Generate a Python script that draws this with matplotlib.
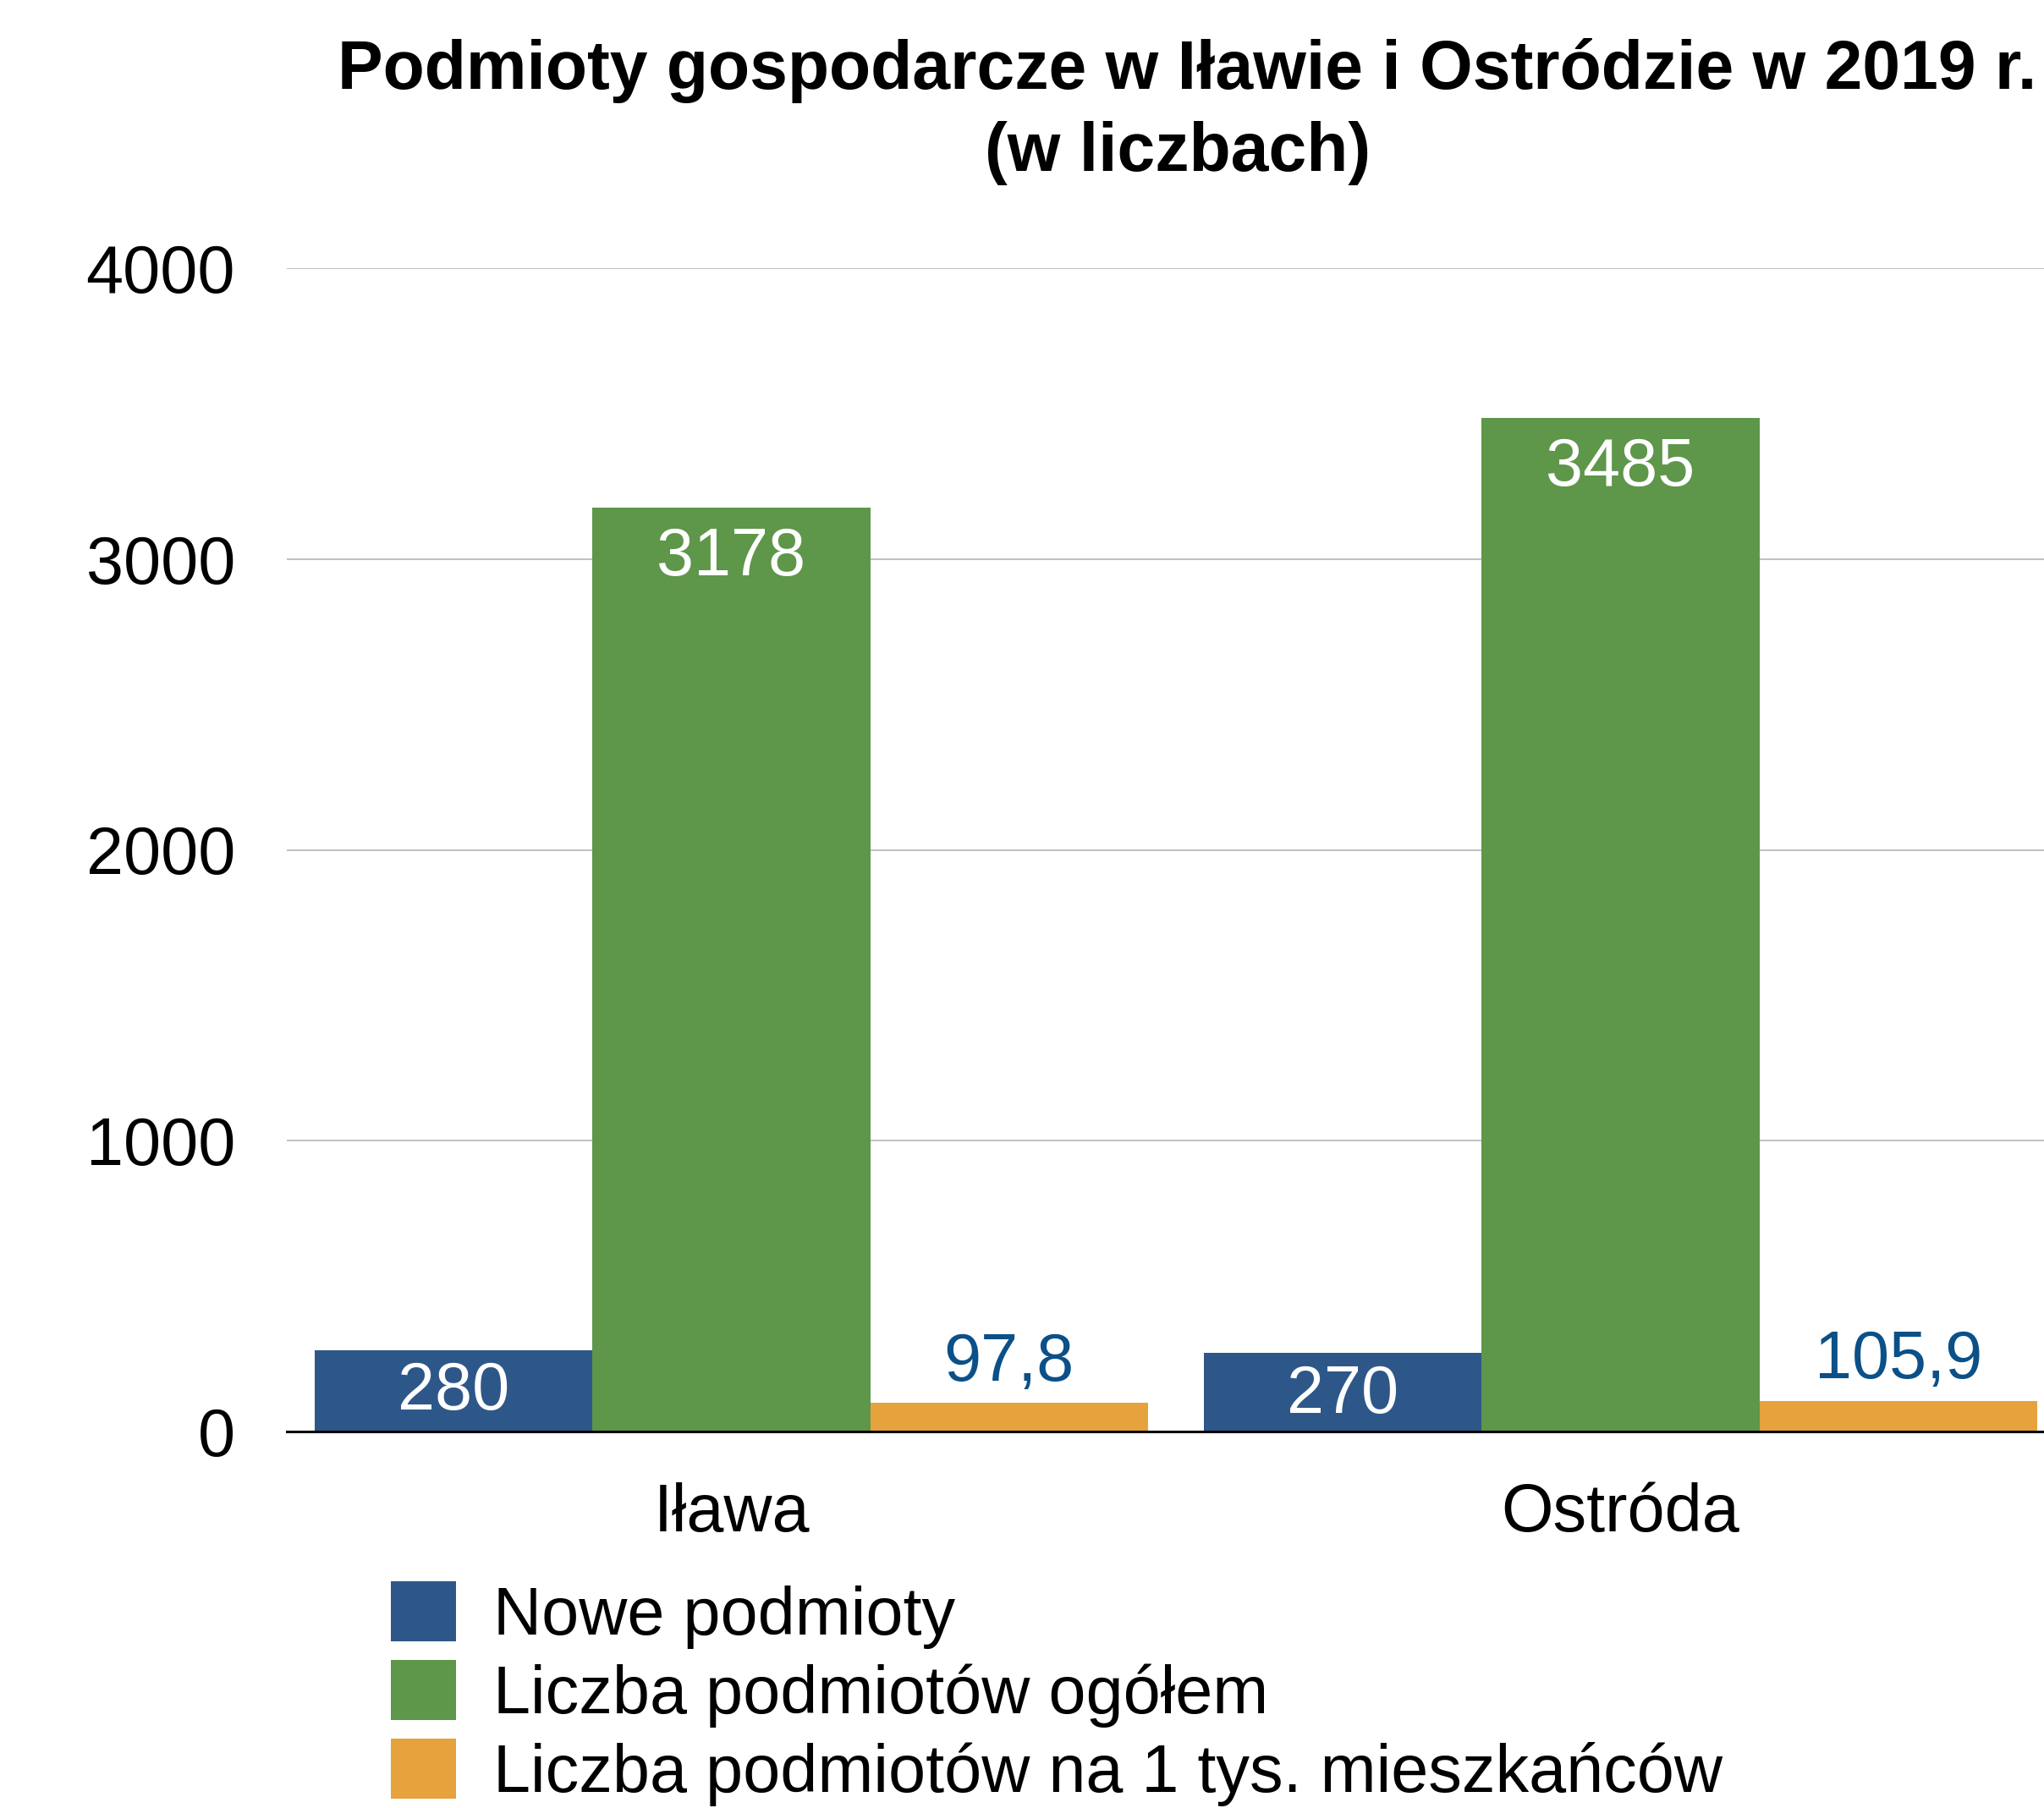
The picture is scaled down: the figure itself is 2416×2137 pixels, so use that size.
import matplotlib
matplotlib.use("Agg")
import matplotlib.pyplot as plt
from matplotlib.patches import Patch
import numpy as np

categories = ["Iława", "Ostróda"]
series_names = ["Nowe podmioty", "Liczba podmiotów ogółem", "Liczba podmiotów na 1 tys. mieszkańców"]
nowe = [280, 270]
ogolem = [3178, 3485]
na_tys = [97.8, 105.9]
label_texts = [["280", "270"], ["3178", "3485"], ["97,8", "105,9"]]
yticks = [0, 1000, 2000, 3000, 4000]
title1 = "Podmioty gospodarcze w Iławie i Ostródzie w 2019 r."
title2 = "(w liczbach)"

colors = ["#2e5789", "#5e964a", "#e6a23d"]
label_colors = ["white", "white", "#0b5088"]
label_offsets = [-36, -43, 34]

plt.rcParams['font.family'] = ['Liberation Sans', 'DejaVu Sans']
FS = 57

W, H = 2416, 2137
fig = plt.figure(figsize=(W / 100, H / 100), dpi=100)
ax = fig.add_axes([339 / W, (H - 1692) / H, 2102 / W, (1692 - 317) / H])

x = np.arange(len(categories))
bw = 0.3123
data = [nowe, ogolem, na_tys]
for i, vals in enumerate(data):
    bars = ax.bar(x + (i - 1) * bw, vals, width=bw, color=colors[i], zorder=3, linewidth=0)
    for b, t in zip(bars, label_texts[i]):
        cx = b.get_x() + b.get_width() / 2
        top = b.get_height()
        ax.annotate(t, (cx, top), xytext=(0, label_offsets[i]), textcoords="offset points",
                    ha="center", va="center", color=label_colors[i], fontsize=FS, zorder=4)

ax.set_xlim(-0.5, 1.5)
ax.set_ylim(0, 4000)
ax.set_yticks(yticks)
ax.set_yticklabels([str(v) for v in yticks], fontsize=FS)
ax.set_xticks(x)
ax.set_xticklabels(categories, fontsize=FS)
ax.tick_params(axis="y", length=0, pad=44)
ax.tick_params(axis="x", length=0, pad=43)
ax.grid(axis="y", color="#b5b5b5", linewidth=1.2, zorder=0)
ax.set_axisbelow(True)
for s in ["left", "right", "top"]:
    ax.spines[s].set_visible(False)
ax.spines["bottom"].set_color("black")
ax.spines["bottom"].set_linewidth(2.2)
ax.spines["bottom"].set_zorder(5)

fig.text(1403 / W, 1 - 83 / H, title1, ha="center", va="center", fontsize=58, fontweight="bold")
fig.text(1392 / W, 1 - 181 / H, title2, ha="center", va="center", fontsize=58, fontweight="bold")

handles = [Patch(facecolor=c, edgecolor="none") for c in colors]
fig.legend(handles, series_names, loc="upper left", bbox_to_anchor=(462 / W, 1 - 1869 / H),
           frameon=False, fontsize=FS, handlelength=0.97, handleheight=1.0,
           handletextpad=0.56, labelspacing=0.17, borderpad=0, borderaxespad=0)

fig.savefig("out.png", dpi=100)
